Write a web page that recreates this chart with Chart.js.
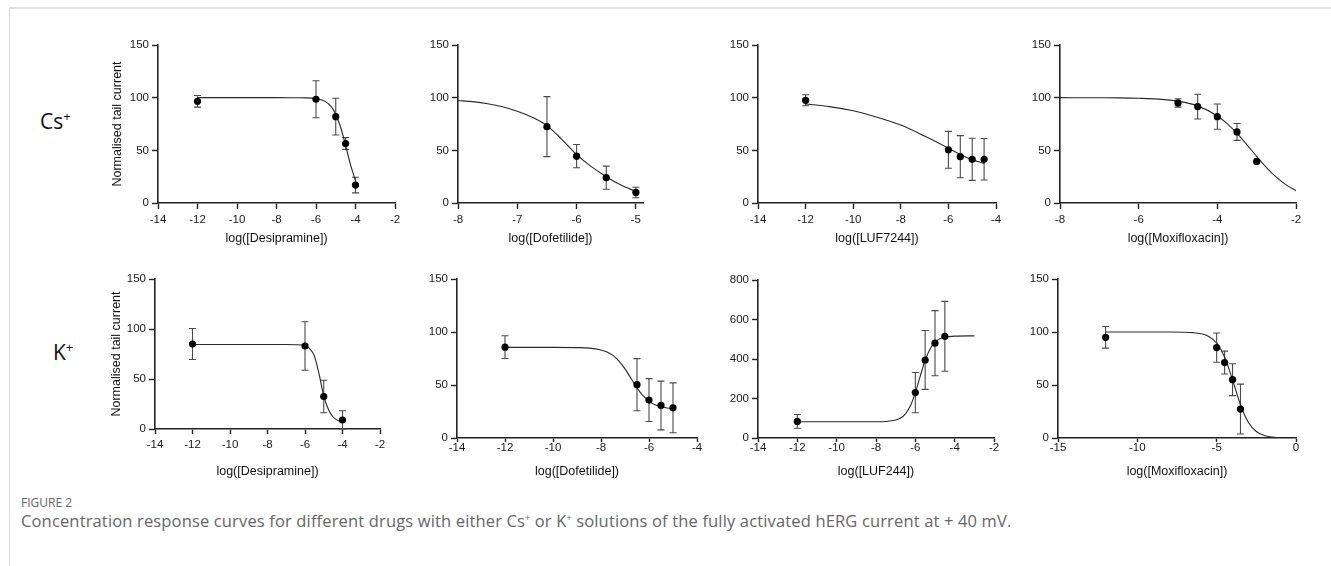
<!DOCTYPE html>
<html><head><meta charset="utf-8">
<script src="https://cdn.jsdelivr.net/npm/chart.js@4.4.1/dist/chart.umd.min.js"></script>
<style>
html,body{margin:0;padding:0;background:#fff;}
body{width:1331px;height:566px;position:relative;overflow:hidden;}
#frame{position:absolute;left:9px;top:7px;width:1340px;height:580px;border-left:1px solid #d9d9d9;border-top:2px solid #e2e2e2;}
.row{position:absolute;font-family:"Open Sans",sans-serif;font-size:21px;line-height:28px;color:#111;white-space:nowrap;}
.row span{font-size:13px;position:relative;top:-8px;}
#figno{position:absolute;left:21px;top:495px;font-family:"Open Sans",sans-serif;font-size:12px;line-height:16px;color:#666;}
#cap{position:absolute;left:21px;top:510px;font-family:"Open Sans",sans-serif;font-size:16.5px;letter-spacing:0.15px;line-height:22px;color:#666;white-space:nowrap;}
#cap span{font-size:9px;position:relative;top:-6px;}
canvas{position:absolute;}
</style>
</head>
<body>
<div id="frame"></div>
<div class="row" style="left:40px;top:107px;">Cs<span>+</span></div>
<div class="row" style="left:53px;top:338px;">K<span>+</span></div>
<div id="figno">FIGURE 2</div>
<div id="cap">Concentration response curves for different drugs with either Cs<span>+</span> or K<span>+</span> solutions of the fully activated hERG current at + 40 mV.</div>
<script>
// ---------- Data ----------
// Cs+ Desipramine
const csDesiX = [-12, -6, -5, -4.5, -4];
const csDesiY = [96.5, 98.5, 82, 56.5, 17];
const csDesiErr = [5.5, 17.5, 17.5, 5.6, 7.4];
const csDesiFitX = [-12, -8, -7, -6.5, -6, -5.75, -5.5, -5.25, -5, -4.75, -4.5, -4.25, -4];
const csDesiFitY = [100, 100, 99.9, 99.8, 99.1, 98.1, 96.0, 91.9, 84.2, 71.7, 54.5, 36.2, 21.1];
// Cs+ Dofetilide
const csDofX = [-6.5, -6, -5.5, -5];
const csDofY = [72.5, 44.5, 24, 10];
const csDofErr = [28.5, 11, 11, 5];
const csDofFitX = [-8, -7.75, -7.5, -7.25, -7, -6.75, -6.5, -6.25, -6, -5.75, -5.5, -5.25, -5];
const csDofFitY = [97.3, 96.2, 94.3, 91.4, 87.2, 81.5, 73.5, 60.5, 46, 34.5, 25, 17, 11];
// Cs+ LUF7244
const csLufX = [-12, -6, -5.5, -5, -4.5];
const csLufY = [97.5, 50.5, 44, 41.5, 41.5];
const csLufErr = [5.2, 17.5, 20, 20, 19.7];
const csLufFitX = [-12, -11, -10, -9, -8, -7, -6, -5.5, -5, -4.5];
const csLufFitY = [94, 91.5, 87.5, 81.5, 74, 63.5, 52, 46, 41, 37.5];
// Cs+ Moxifloxacin
const csMoxX = [-5, -4.5, -4, -3.5, -3];
const csMoxY = [95, 91.5, 82, 67.5, 39.5];
const csMoxErr = [4, 11.7, 12, 8, 0];
const csMoxFitX = [-8, -7, -6.5, -6, -5.5, -5, -4.5, -4, -3.75, -3.5, -3.25, -3, -2.75, -2.5, -2.25, -2];
const csMoxFitY = [100, 99.9, 99.8, 99.4, 98.6, 96.6, 92.2, 82.6, 75.3, 66, 55.4, 44.3, 33.7, 24.5, 17.2, 11.7];
// K+ Desipramine
const kDesiX = [-12, -6, -5, -4];
const kDesiY = [85, 83, 32.5, 9];
const kDesiErr = [15.5, 24.3, 16.3, 9.3];
const kDesiFitX = [-12, -8, -7, -6.5, -6, -5.75, -5.5, -5.25, -5, -4.75, -4.5, -4.25, -4];
const kDesiFitY = [84.5, 84.5, 84.5, 84.3, 83.2, 80.5, 73, 55, 33, 19.5, 12, 8.5, 7];
// K+ Dofetilide
const kDofX = [-12, -6.5, -6, -5.5, -5];
const kDofY = [85.7, 50.3, 35.8, 30.7, 28.5];
const kDofErr = [10.7, 24.6, 20.2, 23, 23.5];
const kDofFitX = [-12, -10, -9, -8.5, -8, -7.75, -7.5, -7.25, -7, -6.75, -6.5, -6.25, -6, -5.75, -5.5, -5.25, -5];
const kDofFitY = [85.5, 85.5, 85.3, 84.8, 83.1, 81.2, 77.9, 72.6, 65.2, 56.3, 47.3, 39.9, 34.6, 31.3, 29.4, 28.3, 27.7];
// K+ LUF244
const kLufX = [-12, -6, -5.5, -5, -4.5];
const kLufY = [84, 230, 395, 480, 515];
const kLufErr = [35, 102, 149, 165, 177];
const kLufFitX = [-12, -9, -8, -7.5, -7, -6.75, -6.5, -6.25, -6, -5.75, -5.5, -5.25, -5, -4.75, -4.5, -4, -3];
const kLufFitY = [82, 82, 82.4, 83.8, 91, 101, 122.6, 163, 230, 313.5, 393.8, 451, 485, 502, 510, 515.6, 517];
// K+ Moxifloxacin
const kMoxX = [-12, -5, -4.5, -4, -3.5];
const kMoxY = [95, 85.3, 71.2, 55, 27.3];
const kMoxErr = [10.2, 13.8, 10.8, 15, 23.5];
const kMoxFitX = [-12, -8, -7, -6.5, -6, -5.5, -5, -4.5, -4, -3.5, -3, -2.5, -2, -1.5, -1];
const kMoxFitY = [100, 100, 99.8, 99.4, 98.4, 95.8, 89.6, 76.4, 54.9, 31.4, 14.7, 6.1, 2.4, 0.9, 0.3];

// Tick labels
const ticksX14to2 = [-14, -12, -10, -8, -6, -4, -2];
const ticksX14to4 = [-14, -12, -10, -8, -6, -4];
const ticksX8to5 = [-8, -7, -6, -5];
const ticksX8to2 = [-8, -6, -4, -2];
const ticksX15to0 = [-15, -10, -5, 0];
const ticksY150 = [0, 50, 100, 150];
const ticksY800 = [0, 200, 400, 600, 800];

// Axis titles
const yTitle = 'Normalised tail current';
const xTitles = ['log([Desipramine])', 'log([Dofetilide])', 'log([LUF7244])', 'log([Moxifloxacin])',
                 'log([Desipramine])', 'log([Dofetilide])', 'log([LUF244])', 'log([Moxifloxacin])'];

// ---------- Layout (pixel placement of each plot area) ----------
const panels = [
  {xs:csDesiX, ys:csDesiY, es:csDesiErr, fx:csDesiFitX, fy:csDesiFitY, xmin:-14, xmax:-2, xt:ticksX14to2, yt:ticksY150, ymax:150, xTitle:xTitles[0], yTitle:yTitle, L:158, R:395, T:45, B:203, W:48, H:43, xtl:6, xpad:4},
  {xs:csDofX, ys:csDofY, es:csDofErr, fx:csDofFitX, fy:csDofFitY, xmin:-8, xmax:-4.88, xt:ticksX8to5, yt:ticksY150, ymax:150, xTitle:xTitles[1], L:458, R:643, T:45, B:203, W:40, H:43, xtl:6, xpad:4},
  {xs:csLufX, ys:csLufY, es:csLufErr, fx:csLufFitX, fy:csLufFitY, xmin:-14, xmax:-4, xt:ticksX14to4, yt:ticksY150, ymax:150, xTitle:xTitles[2], L:758, R:996, T:45, B:203, W:40, H:43, xtl:6, xpad:4},
  {xs:csMoxX, ys:csMoxY, es:csMoxErr, fx:csMoxFitX, fy:csMoxFitY, xmin:-8, xmax:-2, xt:ticksX8to2, yt:ticksY150, ymax:150, xTitle:xTitles[3], L:1060, R:1296, T:45, B:203, W:40, H:43, xtl:6, xpad:4},
  {xs:kDesiX, ys:kDesiY, es:kDesiErr, fx:kDesiFitX, fy:kDesiFitY, xmin:-14, xmax:-2, xt:ticksX14to2, yt:ticksY150, ymax:150, xTitle:xTitles[4], yTitle:yTitle, L:155, R:380, T:279, B:429, W:46, H:50, xtl:5, xpad:4},
  {xs:kDofX, ys:kDofY, es:kDofErr, fx:kDofFitX, fy:kDofFitY, xmin:-14, xmax:-4, xt:ticksX14to4, yt:ticksY150, ymax:150, xTitle:xTitles[5], L:457, R:697, T:279, B:438, W:40, H:41, xtl:4, xpad:-1.5},
  {xs:kLufX, ys:kLufY, es:kLufErr, fx:kLufFitX, fy:kLufFitY, xmin:-14, xmax:-2, xt:ticksX14to2, yt:ticksY800, ymax:800, xTitle:xTitles[6], L:758, R:994, T:280, B:438, W:40, H:41, xtl:4, xpad:-1.5},
  {xs:kMoxX, ys:kMoxY, es:kMoxErr, fx:kMoxFitX, fy:kMoxFitY, xmin:-15, xmax:0, xt:ticksX15to0, yt:ticksY150, ymax:150, xTitle:xTitles[7], L:1058, R:1296, T:279, B:438, W:40, H:41, xtl:4, xpad:-1.5}
];

const FONT = "'Liberation Sans', Arial, sans-serif";
const INK = '#1a1a1a';

const errorBarPlugin = {
  id: 'errorBars',
  beforeDatasetsDraw(chart) {
    const ds = chart.data.datasets[0];
    const errs = ds.errors || [];
    const {ctx} = chart;
    const xS = chart.scales.x, yS = chart.scales.y;
    ctx.save();
    ctx.strokeStyle = '#4a4a4a';
    ctx.lineWidth = 1.1;
    const cap = 3.5;
    ds.data.forEach((pt, i) => {
      const e = errs[i];
      if (!e) return;
      const px = xS.getPixelForValue(pt.x);
      const y1 = yS.getPixelForValue(pt.y + e);
      const y2 = yS.getPixelForValue(Math.max(pt.y - e, yS.min));
      ctx.beginPath();
      ctx.moveTo(px, y1); ctx.lineTo(px, y2);
      ctx.moveTo(px - cap, y1); ctx.lineTo(px + cap, y1);
      ctx.moveTo(px - cap, y2); ctx.lineTo(px + cap, y2);
      ctx.stroke();
    });
    ctx.restore();
  }
};

function makeChart(p) {
  const padTop = 12, padRight = 16;
  const w = p.W + (p.R - p.L) + padRight;
  const h = padTop + (p.B - p.T) + p.H;
  const cv = document.createElement('canvas');
  cv.width = w; cv.height = h;
  cv.style.left = (p.L - p.W) + 'px';
  cv.style.top = (p.T - padTop) + 'px';
  cv.style.width = w + 'px';
  cv.style.height = h + 'px';
  document.body.appendChild(cv);
  new Chart(cv, {
    type: 'scatter',
    data: {
      datasets: [
        {
          data: p.xs.map((x, i) => ({x: x, y: p.ys[i]})),
          errors: p.es,
          pointRadius: 3.6, pointHoverRadius: 3.6,
          backgroundColor: '#000', borderColor: '#000', borderWidth: 0,
          showLine: false, order: 0
        },
        {
          type: 'line',
          data: p.fx.map((x, i) => ({x: x, y: p.fy[i]})),
          borderColor: '#2a2a2a', borderWidth: 1.1,
          pointRadius: 0, fill: false,
          cubicInterpolationMode: 'monotone',
          order: 1
        }
      ]
    },
    options: {
      responsive: false, animation: false, devicePixelRatio: 1,
      events: [],
      layout: {padding: {left: 0, top: padTop, right: padRight, bottom: 0}},
      plugins: {legend: {display: false}, tooltip: {enabled: false}},
      scales: {
        x: {
          type: 'linear', min: p.xmin, max: p.xmax,
          afterBuildTicks: s => { s.ticks = p.xt.map(v => ({value: v})); },
          afterFit: s => { s.height = p.H; },
          ticks: {color: INK, font: {family: FONT, size: 11.5}, padding: p.xpad, maxRotation: 0, autoSkip: false},
          grid: {display: true, drawOnChartArea: false, drawTicks: true, tickLength: p.xtl, tickColor: '#222', tickWidth: 1.4},
          border: {display: true, color: '#222', width: 1.6},
          title: {display: true, text: p.xTitle, color: '#111', font: {family: FONT, size: 12.5}, padding: {top: 0, bottom: 0}}
        },
        y: {
          type: 'linear', min: 0, max: p.ymax,
          afterBuildTicks: s => { s.ticks = p.yt.map(v => ({value: v})); },
          afterFit: s => { s.width = p.W; },
          ticks: {color: INK, font: {family: FONT, size: 11.5}, padding: 3, autoSkip: false},
          grid: {display: true, drawOnChartArea: false, drawTicks: true, tickLength: 6, tickColor: '#222', tickWidth: 1.4},
          border: {display: true, color: '#222', width: 1.6},
          title: {display: !!p.yTitle, text: p.yTitle || '', color: '#111', font: {family: FONT, size: 12.5}, padding: {top: 0, bottom: 0}}
        }
      }
    },
    plugins: [errorBarPlugin]
  });
}

panels.forEach(makeChart);
</script>
</body></html>
